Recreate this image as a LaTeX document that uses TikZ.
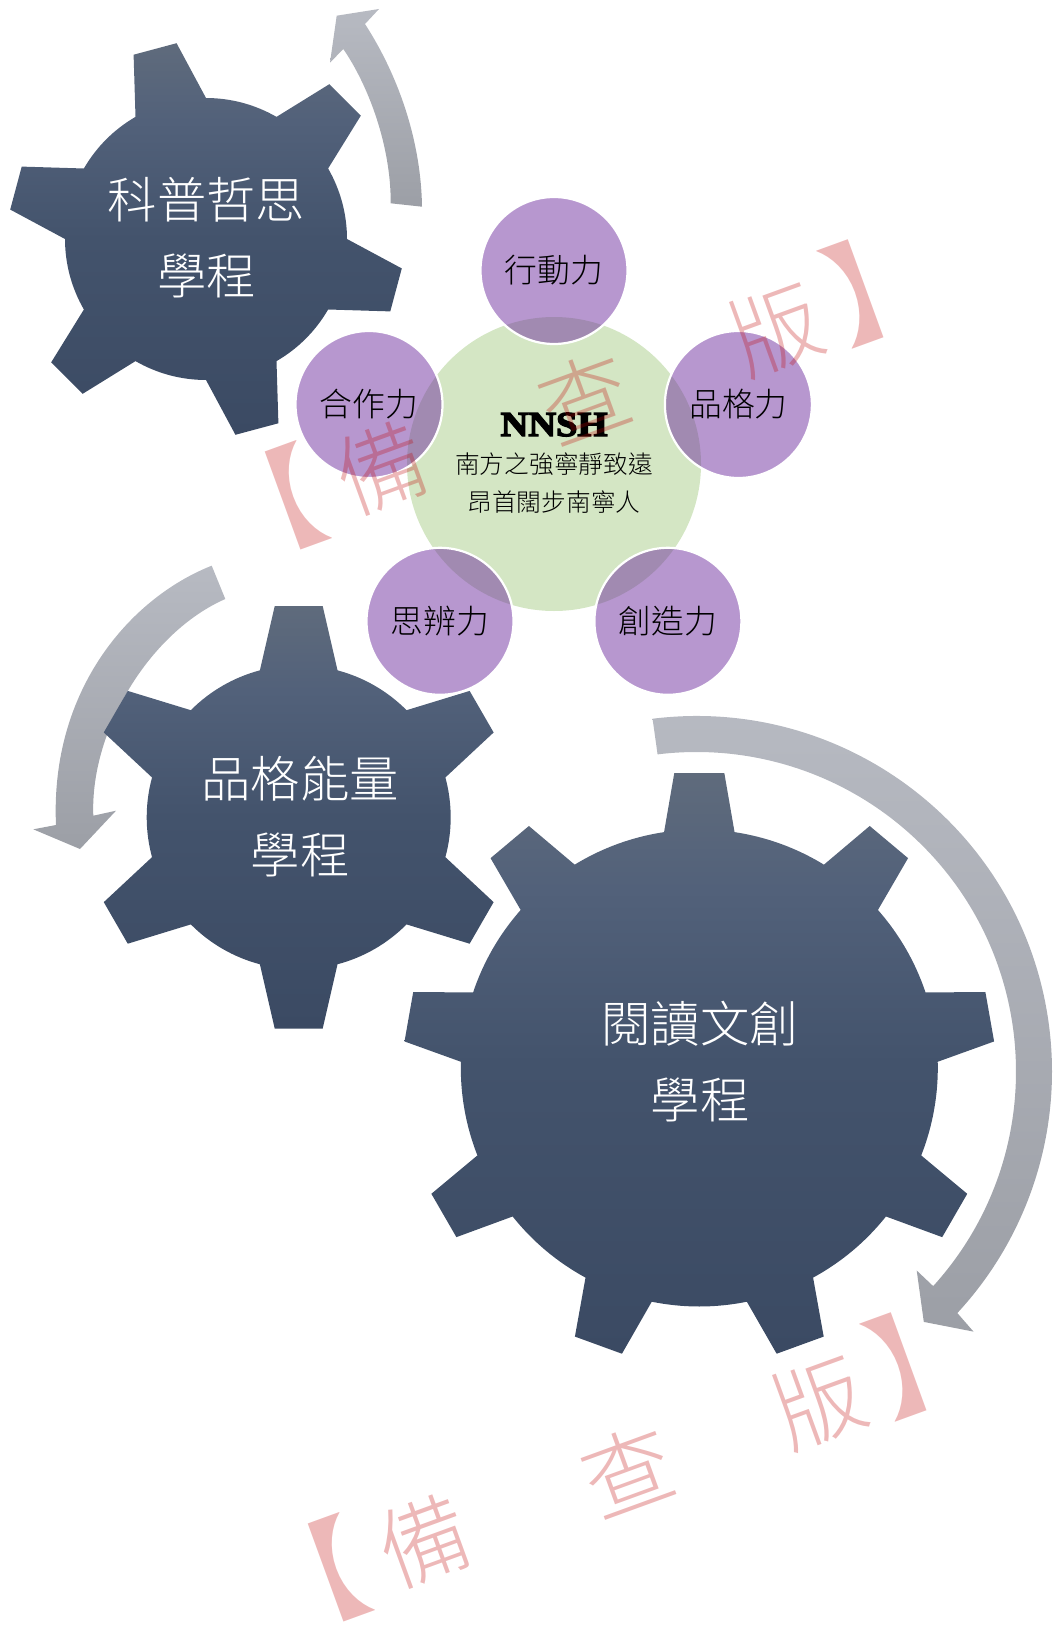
\documentclass[tikz,border=0pt]{standalone}
\usepackage{fontspec}
\setmainfont{Noto Sans CJK TC}
\newfontfamily\lightcjk{Noto Sans CJK TC Light}
\newfontfamily\nnshfont[BoldFeatures={FakeBold=4,FakeStretch=1.1}]{Liberation Serif}
\definecolor{geartop}{HTML}{5F6B7C}
\definecolor{gearupper}{HTML}{52617A}
\definecolor{gearmid}{HTML}{43536C}
\definecolor{gearbot}{HTML}{3B4A63}
\definecolor{arrtop}{HTML}{B7BAC2}
\definecolor{arrbot}{HTML}{9C9FA6}
\definecolor{hubgreen}{HTML}{D4E6C4}
\definecolor{petal}{HTML}{7030A0}
\definecolor{stamp}{HTML}{C00000}
\pgfdeclareverticalshading{gearshade}{100bp}{color(0bp)=(gearbot); color(25bp)=(gearbot); color(50bp)=(gearmid); color(65bp)=(gearupper); color(75bp)=(geartop); color(100bp)=(geartop)}
\tikzset{
  gearfill/.style={shading=gearshade,draw=none},
  arrowfill/.style={top color=arrtop,bottom color=arrbot,draw=none},
  gearlabel/.style={text=white,align=center,inner sep=0pt,font=\lightcjk\fontsize{49.3}{76}\selectfont},
  petalnode/.style={circle,minimum size=147,inner sep=0pt,fill=petal,fill opacity=.5,text opacity=1,draw=white,draw opacity=1,line width=2.2,text=black,font=\lightcjk\fontsize{32.8}{36}\selectfont},
  hubnode/.style={circle,minimum size=294,inner sep=0pt,fill=hubgreen},
  stampnode/.style={text=stamp,text opacity=.28,rotate=20,inner sep=0pt,font=\lightcjk\fontsize{90}{100}\selectfont},
  bracketnode/.style={stampnode,font=\fontsize{112}{120}\selectfont},
}
% #1 teeth, #2 first tooth angle, #3 root radius, #4 tip radius, #5 root half angle, #6 tip half angle
\newcommand{\gearshape}[6]{%
  \shade[gearfill] ({#2+#5}:#3)
  \foreach \k [evaluate=\k as \tang using #2-\k*360/#1,
               evaluate=\k as \tnext using #2-(\k+1)*360/#1+#5,
               evaluate=\k as \tlo using #2-\k*360/#1-#5,
               evaluate=\k as \thi using #2-\k*360/#1+#6,
               evaluate=\k as \tmid using #2-\k*360/#1-#6] in {0,...,\numexpr#1-1\relax}{
    -- (\thi:#4) -- (\tmid:#4) -- (\tlo:#3) arc[start angle=\tlo,end angle=\tnext,radius=#3]
  } -- cycle;}
\begin{document}
\begin{tikzpicture}[x=1pt,y=-1pt]
\useasboundingbox (0,0) rectangle (1056,1629);
% arrows
\shade[arrowfill] (422,206.7) .. controls (421,140) and (398,75) .. (365,24)
  -- (379,9) -- (336.7,15.7) -- (330,62.7) -- (343.3,49)
  .. controls (368,85) and (391,145) .. (390.7,203.3) -- cycle;
\shade[arrowfill] (211.7,565.7) .. controls (130,598) and (50,690) .. (56,825)
  -- (33.3,829.3) -- (80,849) -- (116,810.7) -- (93.3,815.7)
  .. controls (90,730) and (150,632) .. (225.3,599) -- cycle;
\begin{scope}[shift={(696.5,1071.5)},y=1pt]
\shade[arrowfill] (97.1:355.5) arc[start angle=97.1,end angle=-42.8,radius=355.5]
  -- (277,-260.1) -- (227.3,-250.4) -- (220.2,-199) -- (-42.2:319.5)
  arc[start angle=-42.2,end angle=97,radius=319.5] -- cycle;
\end{scope}
% gears
\begin{scope}[shift={(206,239)},y=1pt]\gearshape{6}{105}{141}{198}{15}{6.45}\end{scope}
\begin{scope}[shift={(298.7,817.3)},y=1pt]\gearshape{6}{90}{152}{212.6}{14.8}{6.48}\end{scope}
\begin{scope}[shift={(699.3,1068)},y=1pt]\gearshape{9}{90}{238.5}{296}{8.5}{4.85}\end{scope}
\node[gearlabel] (g1) at (206.5,237.5) {科普哲思\\學程};
\node[gearlabel] (g2) at (300,816.5) {品格能量\\學程};
\node[gearlabel] (g3) at (700,1061.5) {閱讀文創\\學程};
% hub
\node[hubnode] (hub) at (554,464) {};
\node[petalnode] (p1) at (554,270.5) {行動力};
\node[petalnode] (p2) at (738.4,404.5) {品格力};
\node[petalnode] (p3) at (667.9,621.3) {創造力};
\node[petalnode] (p4) at (440,621.3) {思辨力};
\node[petalnode] (p5) at (369,404.5) {合作力};
\node[inner sep=0pt,font=\nnshfont\bfseries\fontsize{35}{36}\selectfont] (nnsh) at (554,424.6) {NNSH};
\node[inner sep=0pt,align=center,font=\lightcjk\fontsize{24.7}{38}\selectfont] (motto) at (554,483) {南方之強寧靜致遠\\昂首闊步南寧人};
% watermarks
\node[bracketnode] (a1) at (265.7,507) {【};
\node[stampnode] (a2) at (381,468.5) {備};
\node[stampnode] (a3) at (585,397.5) {查};
\node[stampnode] (a4) at (776,329.5) {版};
\node[bracketnode] (a5) at (884,282.3) {】};
\node[bracketnode] (b1) at (308.7,1579.7) {【};
\node[stampnode] (b2) at (424,1541) {備};
\node[stampnode] (b3) at (628,1470) {查};
\node[stampnode] (b4) at (819,1402) {版};
\node[bracketnode] (b5) at (927,1355) {】};
\end{tikzpicture}
\end{document}
